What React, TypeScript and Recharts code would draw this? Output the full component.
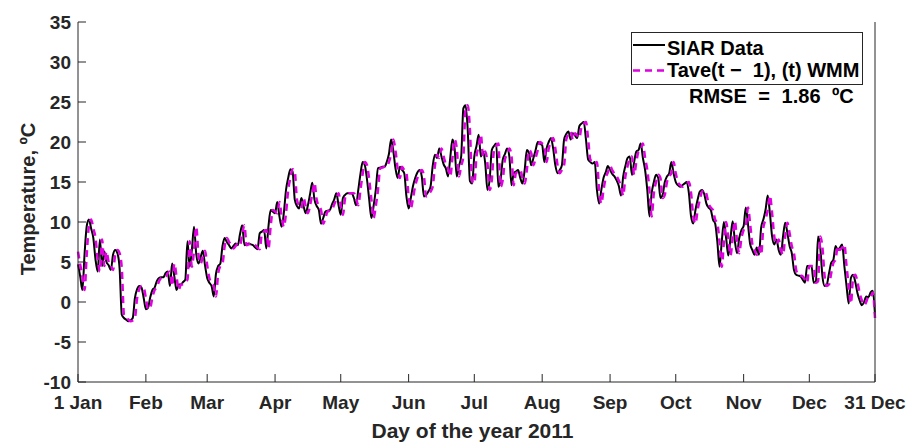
import { Legend, Line, LineChart, XAxis, YAxis } from "recharts";

// Daily mean temperature 2011 (ºC), one value per day
const SIAR_DATA = [
  // Jan
  4.7, 3.2, 1.5, 6.0, 9.5, 10.3, 9.2, 8.0, 5.3, 3.8, 7.8, 4.5, 6.3, 5.0, 4.6, 4.0, 5.9, 6.5, 6.1, 4.2,
  -1.6, -2.0, -2.2, -2.4, -2.3, -2.0, 0.5, 1.6, 2.0, 1.8, 0.5,
  // Feb
  -0.9, -0.7, 0.6, 1.5, 1.8, 2.6, 3.0, 3.1, 3.1, 3.6, 3.8, 2.0, 4.8, 3.2, 1.5, 2.2, 2.2, 2.5, 2.8, 7.6,
  4.4, 6.5, 9.4, 6.0, 4.8, 5.6, 6.4, 4.6,
  // Mar
  3.0, 2.4, 2.0, 0.7, 3.5, 4.5, 4.8, 7.0, 8.0, 7.5, 7.1, 6.7, 7.0, 7.3, 7.1, 8.5, 9.6, 7.1, 7.2, 7.3,
  7.2, 7.1, 6.8, 6.6, 8.6, 8.8, 9.0, 6.7, 9.5, 11.5, 11.3,
  // Apr
  11.1, 12.5, 10.7, 9.4, 11.1, 14.0, 15.5, 16.6, 16.3, 12.8, 12.0, 11.7, 13.0, 12.0, 11.1, 12.1, 13.5, 14.9, 12.8, 12.0,
  11.5, 9.8, 10.5, 11.3, 11.4, 11.5, 12.2, 12.8, 13.6, 12.1,
  // May
  10.9, 13.0, 13.4, 13.6, 13.6, 13.6, 13.0, 12.1, 14.0, 16.0, 17.5, 17.1, 15.3, 12.8, 10.5, 12.0, 14.0, 16.7, 16.8, 16.9,
  16.9, 17.5, 18.5, 20.3, 18.9, 16.7, 15.5, 16.9, 16.5, 16.1, 13.2,
  // Jun
  11.7, 13.0, 14.5, 15.5, 16.2, 16.5, 15.7, 13.2, 13.4, 13.8, 14.4, 17.0, 18.4, 18.0, 19.2, 18.2, 17.2, 16.7, 15.7, 18.0,
  20.3, 19.2, 15.7, 17.0, 18.2, 24.2, 24.6, 21.5, 15.1, 14.8,
  // Jul
  18.2, 19.5, 20.9, 18.2, 18.8, 17.3, 14.0, 15.3, 19.0, 19.5, 19.8, 14.4, 15.3, 17.8, 18.5, 19.2, 18.2, 14.6, 16.1, 16.3,
  16.5, 15.5, 14.8, 16.5, 19.0, 18.6, 17.1, 18.0, 19.0, 20.0, 19.8,
  // Aug
  19.6, 17.5, 19.2, 20.0, 20.5, 19.2, 17.1, 16.1, 16.5, 17.1, 20.3, 21.0, 21.3, 20.3, 21.1, 20.8, 20.5, 22.0, 22.3, 22.5,
  20.3, 17.8, 17.5, 17.3, 17.5, 14.0, 12.3, 14.0, 15.5, 16.2, 17.0,
  // Sep
  16.5, 16.0, 15.7, 15.2, 14.5, 13.3, 15.7, 17.0, 18.0, 18.2, 15.9, 17.5, 18.8, 19.0, 19.8, 18.0, 16.5, 14.0, 10.7, 13.6,
  15.0, 15.9, 15.5, 13.0, 13.4, 15.0, 15.7, 16.1, 17.5, 16.1,
  // Oct
  15.0, 14.6, 14.4, 14.6, 14.8, 15.0, 13.6, 10.7, 9.8, 11.5, 12.8, 13.8, 14.0, 13.5, 12.3, 11.8, 11.5, 10.3, 9.8, 7.5,
  4.4, 7.5, 10.0, 8.0, 5.8, 8.0, 10.1, 7.6, 6.1, 8.0, 9.0,
  // Nov
  9.5, 11.8, 9.7, 7.2, 6.5, 5.9, 6.8, 5.9, 9.3, 10.3, 11.5, 13.3, 11.1, 8.2, 7.2, 7.8, 6.5, 5.9, 8.2, 9.9,
  8.6, 7.0, 6.1, 4.0, 3.4, 3.3, 3.2, 2.8, 2.4, 4.5,
  // Dec
  4.5, 4.5, 2.4, 2.6, 8.2, 6.8, 3.2, 2.0, 2.2, 3.6, 4.9, 5.3, 7.0, 6.5, 6.8, 7.2, 4.5, 2.0, -0.2, 3.0,
  3.4, 2.5, 1.1, 0.2, -0.4, 0.0, 0.7, 0.6, 1.2, 1.4, -1.6,
];

// Tave(t - 1), (t) WMM estimate (trails the data by about a day)
const WMM_DATA = [
  // Jan
  6.3, 4.7, 3.2, 1.5, 6.0, 9.5, 10.3, 9.2, 8.0, 5.3, 3.8, 7.8, 4.5, 6.3, 5.0, 4.6, 4.0, 5.9, 6.5, 6.1,
  4.2, -1.6, -2.0, -2.2, -2.4, -2.3, -2.0, 0.5, 1.6, 2.0, 1.8,
  // Feb
  0.5, -0.9, -0.7, 0.6, 1.5, 1.8, 2.6, 3.0, 3.1, 3.1, 3.6, 3.8, 2.0, 4.8, 3.2, 1.5, 2.2, 2.2, 2.5, 2.8,
  7.6, 4.4, 6.5, 9.4, 6.0, 4.8, 5.6, 6.4,
  // Mar
  4.6, 3.0, 2.4, 2.0, 0.7, 3.5, 4.5, 4.8, 7.0, 8.0, 7.5, 7.1, 6.7, 7.0, 7.3, 7.1, 8.5, 9.6, 7.1, 7.2,
  7.3, 7.2, 7.1, 6.8, 6.6, 8.6, 8.8, 9.0, 6.7, 9.5, 11.5,
  // Apr
  11.3, 11.1, 12.5, 10.7, 9.4, 11.1, 14.0, 15.5, 16.6, 16.3, 12.8, 12.0, 11.7, 13.0, 12.0, 11.1, 12.1, 13.5, 14.9, 12.8,
  12.0, 11.5, 9.8, 10.5, 11.3, 11.4, 11.5, 12.2, 12.8, 13.6,
  // May
  12.1, 10.9, 13.0, 13.4, 13.6, 13.6, 13.6, 13.0, 12.1, 14.0, 16.0, 17.5, 17.1, 15.3, 12.8, 10.5, 12.0, 14.0, 16.7, 16.8,
  16.9, 16.9, 17.5, 18.5, 20.3, 18.9, 16.7, 15.5, 16.9, 16.5, 16.1,
  // Jun
  13.2, 11.7, 13.0, 14.5, 15.5, 16.2, 16.5, 15.7, 13.2, 13.4, 13.8, 14.4, 17.0, 18.4, 18.0, 19.2, 18.2, 17.2, 16.7, 15.7,
  18.0, 20.3, 19.2, 15.7, 17.0, 18.2, 24.2, 24.6, 21.5, 15.1,
  // Jul
  14.8, 18.2, 19.5, 20.9, 18.2, 18.8, 17.3, 14.0, 15.3, 19.0, 19.5, 19.8, 14.4, 15.3, 17.8, 18.5, 19.2, 18.2, 14.6, 16.1,
  16.3, 16.5, 15.5, 14.8, 16.5, 19.0, 18.6, 17.1, 18.0, 19.0, 20.0,
  // Aug
  19.8, 19.6, 17.5, 19.2, 20.0, 20.5, 19.2, 17.1, 16.1, 16.5, 17.1, 20.3, 21.0, 21.3, 20.3, 21.1, 20.8, 20.5, 22.0, 22.3,
  22.5, 20.3, 17.8, 17.5, 17.3, 17.5, 14.0, 12.3, 14.0, 15.5, 16.2,
  // Sep
  17.0, 16.5, 16.0, 15.7, 15.2, 14.5, 13.3, 15.7, 17.0, 18.0, 18.2, 15.9, 17.5, 18.8, 19.0, 19.8, 18.0, 16.5, 14.0, 10.7,
  13.6, 15.0, 15.9, 15.5, 13.0, 13.4, 15.0, 15.7, 16.1, 17.5,
  // Oct
  16.1, 15.0, 14.6, 14.4, 14.6, 14.8, 15.0, 13.6, 10.7, 9.8, 11.5, 12.8, 13.8, 14.0, 13.5, 12.3, 11.8, 11.5, 10.3, 9.8,
  7.5, 4.4, 7.5, 10.0, 8.0, 5.8, 8.0, 10.1, 7.6, 6.1, 8.0,
  // Nov
  9.0, 9.5, 11.8, 9.7, 7.2, 6.5, 5.9, 6.8, 5.9, 9.3, 10.3, 11.5, 13.3, 11.1, 8.2, 7.2, 7.8, 6.5, 5.9, 8.2,
  9.9, 8.6, 7.0, 6.1, 4.0, 3.4, 3.3, 3.2, 2.8, 2.4,
  // Dec
  4.5, 4.5, 4.5, 2.4, 2.6, 8.2, 6.8, 3.2, 2.0, 2.2, 3.6, 4.9, 5.3, 7.0, 6.5, 6.8, 7.2, 4.5, 2.0, -0.2,
  3.0, 3.4, 2.5, 1.1, 0.2, -0.4, 0.0, 0.7, 0.6, 1.2, -2.0,
];

// day-of-year positions of the month ticks
const X_TICKS = [1, 32, 60, 91, 121, 152, 182, 213, 244, 274, 305, 335, 365];
const X_TICK_LABELS = ["1 Jan", "Feb", "Mar", "Apr", "May", "Jun", "Jul", "Aug", "Sep", "Oct", "Nov", "Dec", "31 Dec"];
const Y_TICKS = [-10, -5, 0, 5, 10, 15, 20, 25, 30, 35];

const SERIES_NAMES = ["SIAR Data", "Tave(t \u2212\u00a0 1), (t) WMM"];
const RMSE_TEXT = "RMSE = 1.86 \u00baC";

const data = SIAR_DATA.map((v, i) => ({ day: i + 1, siar: v, wmm: WMM_DATA[i] }));

const FONT = '"Liberation Sans", Arial, Helvetica, sans-serif';
const AXIS = "#262626";
const MAGENTA = "#e000e0";
const TICK_LEN = 8;

const tickText = { fill: AXIS, fontFamily: FONT, fontWeight: 700, fontSize: 19 };

const BottomTick = ({ x, y, payload }: any) => (
  <g>
    <line x1={x} x2={x} y1={y} y2={y - TICK_LEN} stroke={AXIS} />
    <text x={x} y={y + 27} textAnchor="middle" {...tickText}>
      {X_TICK_LABELS[X_TICKS.indexOf(payload.value)]}
    </text>
  </g>
);

const TopTick = ({ x, y }: any) => <line x1={x} x2={x} y1={y} y2={y + TICK_LEN} stroke={AXIS} />;

const LeftTick = ({ x, y, payload }: any) => (
  <g>
    <line x1={x} x2={x + TICK_LEN} y1={y} y2={y} stroke={AXIS} />
    <text x={x - 7} y={y} dy="0.36em" textAnchor="end" {...tickText}>
      {payload.value}
    </text>
  </g>
);

const RightTick = ({ x, y }: any) => <line x1={x} x2={x - TICK_LEN} y1={y} y2={y} stroke={AXIS} />;

const renderLegend = () => (
  <div style={{ position: "relative", width: 232, height: 53, fontFamily: FONT, fontWeight: 700, fontSize: 20, color: "#000" }}>
    <div style={{ position: "absolute", inset: 0, border: `1px solid ${AXIS}`, background: "#fff" }} />
    <svg width={36} height={53} style={{ position: "absolute", left: 0, top: 0 }}>
      <line x1={2} x2={34} y1={13} y2={13} stroke="#000" strokeWidth={2} />
      <line x1={2} x2={34} y1={38.5} y2={38.5} stroke={MAGENTA} strokeWidth={2.5} strokeDasharray="7 5" />
    </svg>
    <div style={{ position: "absolute", left: 36, top: 6, lineHeight: "20px", whiteSpace: "pre" }}>{SERIES_NAMES[0]}</div>
    <div style={{ position: "absolute", left: 36, top: 28, lineHeight: "20px", whiteSpace: "pre" }}>{SERIES_NAMES[1]}</div>
    <div style={{ position: "absolute", left: 58, top: 54, lineHeight: "20px", whiteSpace: "pre", wordSpacing: 6 }}>
      {RMSE_TEXT}
    </div>
  </div>
);

const App = () => (
  <div style={{ position: "absolute", left: 0, top: 0, width: 914, height: 444, background: "#fff" }}>
    <LineChart width={914} height={444} data={data} margin={{ top: 22, right: 0, bottom: 0, left: 0 }}>
      <XAxis
        dataKey="day"
        type="number"
        domain={[1, 365]}
        ticks={X_TICKS}
        interval={0}
        height={62}
        tickSize={0}
        tickMargin={0}
        tickLine={false}
        axisLine={{ stroke: AXIS }}
        tick={<BottomTick />}
        label={{
          value: "Day of the year 2011",
          position: "insideBottom",
          offset: 6,
          dx: -4,
          fill: AXIS,
          fontFamily: FONT,
          fontWeight: 700,
          fontSize: 21,
        }}
      />
      <XAxis
        xAxisId="top"
        orientation="top"
        type="number"
        domain={[1, 365]}
        ticks={X_TICKS}
        interval={0}
        height={0}
        tickSize={0}
        tickMargin={0}
        tickLine={false}
        axisLine={{ stroke: AXIS }}
        tick={<TopTick />}
      />
      <YAxis
        type="number"
        domain={[-10, 35]}
        ticks={Y_TICKS}
        interval={0}
        width={78}
        tickSize={0}
        tickMargin={0}
        tickLine={false}
        axisLine={{ stroke: AXIS }}
        tick={<LeftTick />}
        label={{
          value: "Temperature, \u00baC",
          angle: -90,
          position: "insideLeft",
          offset: 28,
          dy: -3,
          fill: AXIS,
          fontFamily: FONT,
          fontWeight: 700,
          fontSize: 20,
          style: { textAnchor: "middle" },
        }}
      />
      <YAxis
        yAxisId="right"
        orientation="right"
        type="number"
        domain={[-10, 35]}
        ticks={Y_TICKS}
        interval={0}
        width={39}
        tickSize={0}
        tickMargin={0}
        tickLine={false}
        axisLine={{ stroke: AXIS }}
        tick={<RightTick />}
      />
      <Legend
        content={renderLegend}
        layout="horizontal"
        align="center"
        verticalAlign="middle"
        wrapperStyle={{ position: "absolute", left: 631, top: 32, width: "auto", height: "auto" }}
      />
      <Line
        type="monotone"
        dataKey="siar"
        name={SERIES_NAMES[0]}
        stroke="#000"
        strokeWidth={2}
        dot={false}
        isAnimationActive={false}
      />
      <Line
        type="monotone"
        dataKey="wmm"
        name={SERIES_NAMES[1]}
        stroke={MAGENTA}
        strokeWidth={2.5}
        strokeDasharray="7 5"
        dot={false}
        isAnimationActive={false}
      />
    </LineChart>
  </div>
);

export default App;
